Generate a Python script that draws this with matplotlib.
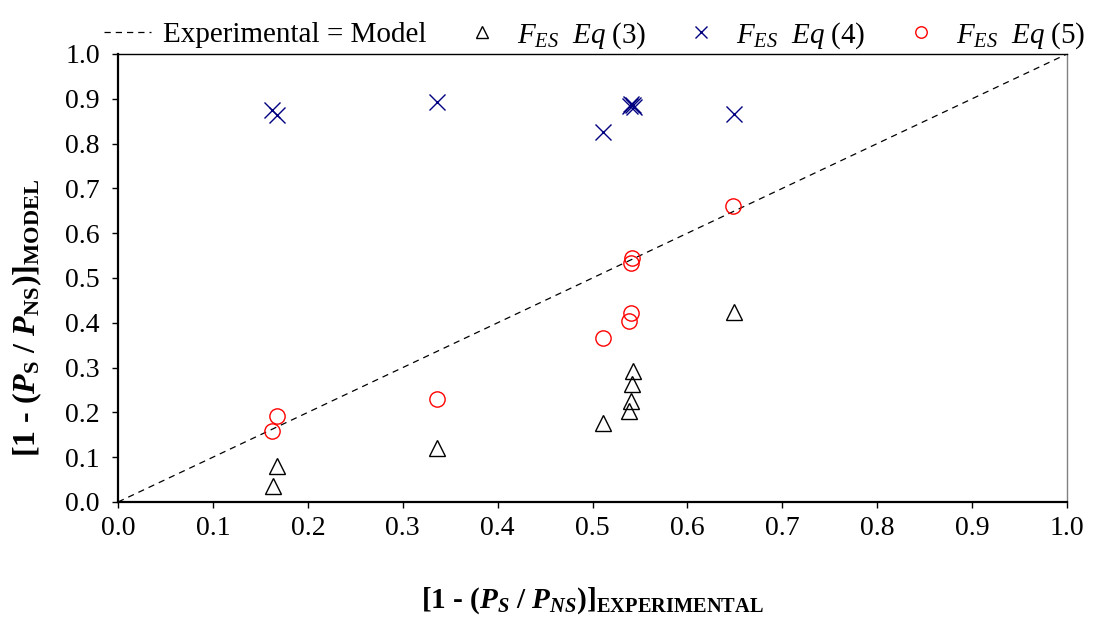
import matplotlib
matplotlib.use("Agg")
import matplotlib.pyplot as plt
import numpy as np

plt.rcParams['font.family'] = ['Liberation Serif', 'DejaVu Serif']
plt.rcParams['mathtext.fontset'] = 'custom'
plt.rcParams['mathtext.rm'] = 'Liberation Serif'
plt.rcParams['mathtext.it'] = 'Liberation Serif:italic'
plt.rcParams['mathtext.bf'] = 'Liberation Serif:bold'
plt.rcParams['mathtext.bfit'] = 'Liberation Serif:bold:italic'

# Data: x = experimental, y = model
eq3_x = [0.163, 0.168, 0.336, 0.511, 0.538, 0.541, 0.542, 0.543, 0.649]
eq3_y = [0.036, 0.080, 0.120, 0.176, 0.203, 0.225, 0.263, 0.292, 0.424]

eq4_x = [0.162, 0.168, 0.336, 0.511, 0.539, 0.541, 0.543, 0.544, 0.649]
eq4_y = [0.875, 0.864, 0.893, 0.826, 0.884, 0.889, 0.886, 0.882, 0.866]

eq5_x = [0.162, 0.168, 0.336, 0.511, 0.538, 0.541, 0.541, 0.542, 0.648]
eq5_y = [0.158, 0.192, 0.230, 0.366, 0.404, 0.421, 0.534, 0.545, 0.661]

line_x = [0.0, 1.0]
line_y = [0.0, 1.0]

ticks = [0.0, 0.1, 0.2, 0.3, 0.4, 0.5, 0.6, 0.7, 0.8, 0.9, 1.0]

fig = plt.figure(figsize=(10.95, 6.3), dpi=100)
ax = fig.add_axes([0.1078, 0.2032, 0.8666, 0.7111])

ax.plot(line_x, line_y, color='black', lw=0.9, ls=(0, (5, 4)),
        label='Experimental = Model', zorder=2)
ax.plot(eq3_x, eq3_y, ls='none', marker='^', ms=12, mfc='none', mec='black',
        mew=1.0, label=r'$F_{ES}\ \ Eq\ (3)$', zorder=3)
ax.plot(eq4_x, eq4_y, ls='none', marker='x', ms=11, mec='#000080',
        mew=1.0, label=r'$F_{ES}\ \ Eq\ (4)$', zorder=3)
ax.plot(eq5_x, eq5_y, ls='none', marker='o', ms=11, mfc='none', mec='red',
        mew=1.0, label=r'$F_{ES}\ \ Eq\ (5)$', zorder=3)

ax.set_xlim(0, 1)
ax.set_ylim(0, 1)
ax.set_xticks(ticks)
ax.set_yticks(ticks)
ax.set_xticklabels([f'{t:.1f}' for t in ticks], fontsize=20)
ax.set_yticklabels([f'{t:.1f}' for t in ticks], fontsize=20)
ax.tick_params(direction='out', length=4, width=1)
ax.tick_params(axis='y', pad=9)
ax.tick_params(axis='x', pad=6)

ax.spines['left'].set_linewidth(1.6)
ax.spines['bottom'].set_linewidth(1.6)
ax.spines['top'].set_linewidth(1.0)
ax.spines['right'].set_linewidth(1.0)
ax.spines['right'].set_color('#808080')

ax.set_xlabel(r'[1 - ($\mathbfit{P}_{\mathbfit{S}}$ / $\mathbfit{P}_{\mathbfit{NS}}$)]$\mathbf{}_{\mathbf{EXPERIMENTAL}}$',
              fontsize=21, fontweight='bold', labelpad=32)
ax.set_ylabel(r'[1 - ($\mathbfit{P}_{\mathbf{S}}$ / $\mathbfit{P}_{\mathbf{NS}}$)]$\mathbf{}_{\mathbf{MODEL}}$',
              fontsize=23, fontweight='bold')
ax.yaxis.set_label_coords(-0.078, 0.41)

fig.legend(loc='upper center', bbox_to_anchor=(0.5434, 1.01), ncol=4,
           frameon=False, fontsize=21, handlelength=1.6, handletextpad=0.4,
           columnspacing=1.1, markerscale=0.75)

fig.savefig('out.png', dpi=100)
